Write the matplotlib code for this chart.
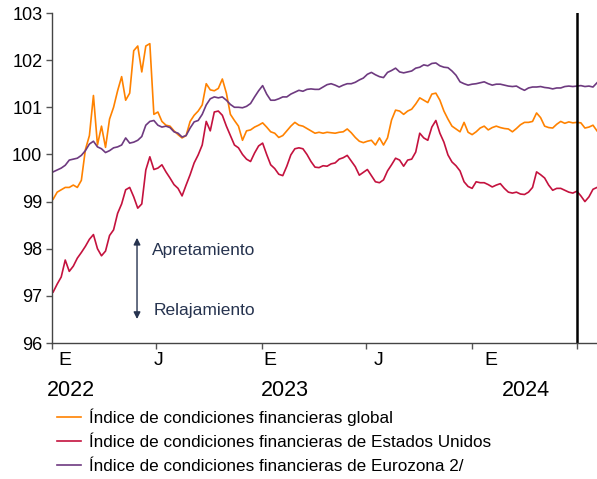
import matplotlib
matplotlib.use("Agg")
import matplotlib.pyplot as plt
import pandas as pd
from matplotlib import font_manager

# ---------------- data (weekly readings) ----------------
start_date = "2022-01-03"
n_weeks = 136

global_idx = [
    99.05, 99.20, 99.25, 99.30, 99.30, 99.35, 99.30, 99.45, 100.10, 100.40,
    101.25, 100.20, 100.60, 100.15, 100.75, 101.00, 101.35, 101.65, 101.15, 101.30,
    102.20, 102.30, 101.75, 102.30, 102.35, 100.85, 100.90, 100.70, 100.62, 100.60,
    100.50, 100.42, 100.35, 100.40, 100.70, 100.83, 100.92, 101.05, 101.50, 101.37,
    101.35, 101.40, 101.60, 101.30, 100.85, 100.72, 100.60, 100.30, 100.50, 100.52,
    100.58, 100.62, 100.67, 100.58, 100.48, 100.45, 100.36, 100.40, 100.50, 100.60,
    100.68, 100.62, 100.60, 100.55, 100.50, 100.45, 100.47, 100.45, 100.47, 100.46,
    100.45, 100.47, 100.48, 100.54, 100.46, 100.36, 100.28, 100.25, 100.28, 100.30,
    100.20, 100.35, 100.20, 100.35, 100.73, 100.94, 100.92, 100.85, 100.92, 100.96,
    101.07, 101.20, 101.15, 101.10, 101.28, 101.30, 101.15, 100.92, 100.75, 100.60,
    100.54, 100.48, 100.68, 100.47, 100.42, 100.48, 100.56, 100.60, 100.52, 100.57,
    100.60, 100.57, 100.55, 100.54, 100.48, 100.55, 100.63, 100.68, 100.68, 100.70,
    100.88, 100.78, 100.60, 100.57, 100.56, 100.64, 100.70, 100.66, 100.69, 100.67,
    100.68, 100.67, 100.56, 100.58, 100.62, 100.50,
]

us_idx = [
    97.08, 97.25, 97.40, 97.76, 97.52, 97.63, 97.80, 97.92, 98.05, 98.20,
    98.30, 98.00, 97.85, 97.95, 98.28, 98.40, 98.75, 98.95, 99.25, 99.30,
    99.10, 98.86, 98.95, 99.67, 99.95, 99.68, 99.71, 99.78, 99.63, 99.50,
    99.36, 99.28, 99.12, 99.35, 99.57, 99.82, 99.99, 100.20, 100.70, 100.50,
    100.90, 100.92, 100.83, 100.60, 100.40, 100.20, 100.14, 100.00, 99.90, 99.85,
    100.03, 100.18, 100.24, 100.00, 99.78, 99.70, 99.58, 99.55, 99.75, 99.99,
    100.12, 100.14, 100.12, 100.00, 99.85, 99.73, 99.72, 99.76, 99.75, 99.80,
    99.82, 99.90, 99.93, 99.98, 99.86, 99.74, 99.56, 99.62, 99.68, 99.55,
    99.42, 99.40, 99.46, 99.65, 99.78, 99.92, 99.88, 99.75, 99.88, 99.90,
    100.05, 100.45, 100.35, 100.30, 100.58, 100.72, 100.45, 100.26, 99.99, 99.84,
    99.76, 99.65, 99.42, 99.32, 99.28, 99.42, 99.40, 99.40, 99.36, 99.31,
    99.35, 99.38, 99.28, 99.20, 99.18, 99.20, 99.16, 99.15, 99.20, 99.30,
    99.63, 99.57, 99.50, 99.35, 99.24, 99.28, 99.28, 99.24, 99.20, 99.18,
    99.22, 99.12, 99.00, 99.10, 99.26, 99.30,
]

ez_idx = [
    99.63, 99.67, 99.71, 99.77, 99.88, 99.90, 99.92, 99.98, 100.08, 100.22,
    100.28, 100.16, 100.12, 100.04, 100.08, 100.14, 100.16, 100.20, 100.35, 100.24,
    100.26, 100.30, 100.38, 100.62, 100.70, 100.72, 100.62, 100.58, 100.60, 100.57,
    100.48, 100.45, 100.37, 100.40, 100.56, 100.69, 100.72, 100.85, 101.05, 101.18,
    101.22, 101.20, 101.22, 101.15, 101.06, 101.00, 101.00, 100.99, 101.02, 101.08,
    101.22, 101.35, 101.46, 101.28, 101.15, 101.15, 101.18, 101.22, 101.22, 101.28,
    101.32, 101.36, 101.34, 101.38, 101.39, 101.38, 101.38, 101.43, 101.48, 101.50,
    101.47, 101.43, 101.47, 101.50, 101.50, 101.53, 101.58, 101.62, 101.70, 101.74,
    101.69, 101.65, 101.63, 101.74, 101.78, 101.83, 101.75, 101.73, 101.75, 101.77,
    101.83, 101.85, 101.90, 101.88, 101.93, 101.94, 101.88, 101.85, 101.84, 101.77,
    101.68, 101.54, 101.50, 101.47, 101.49, 101.50, 101.52, 101.54, 101.50, 101.47,
    101.49, 101.49, 101.47, 101.45, 101.44, 101.45, 101.40, 101.36, 101.41, 101.43,
    101.43, 101.44, 101.42, 101.41, 101.39, 101.41, 101.41, 101.44, 101.45, 101.44,
    101.45, 101.46, 101.44, 101.45, 101.43, 101.52,
]

series_labels = [
    "Índice de condiciones financieras global",
    "Índice de condiciones financieras de Estados Unidos",
    "Índice de condiciones financieras de Eurozona 2/",
]
series_colors = ["#FF8200", "#C4123E", "#6E3A80"]

month_labels = ["E", "J", "E", "J", "E"]
year_labels = ["2022", "2023", "2024"]
y_ticks = [96, 97, 98, 99, 100, 101, 102, 103]
x_tick_dates = ["2022-01-01", "2022-07-01", "2023-01-01", "2023-07-01", "2024-01-01", "2024-07-01"]
vline_date = "2024-07-01"

# ---------------- fonts ----------------
avail = {f.name for f in font_manager.fontManager.ttflist}
base_font = "Liberation Sans" if "Liberation Sans" in avail else "DejaVu Sans"
narrow_font = "Liberation Sans Narrow" if "Liberation Sans Narrow" in avail else None
plt.rcParams["font.family"] = [base_font, "DejaVu Sans"]

dates = pd.date_range(start_date, periods=n_weeks, freq="7D")

fig = plt.figure(figsize=(5.97, 4.79), dpi=100)
ax = fig.add_axes([52 / 597, 1 - 343 / 479, 545 / 597, 330 / 479])

for vals, lab, col in zip([global_idx, us_idx, ez_idx], series_labels, series_colors):
    ax.plot(dates, vals, color=col, lw=1.2, label=lab)

ax.axvline(pd.Timestamp(vline_date), color="black", lw=1.8)

ax.set_ylim(96, 103)
ax.set_xlim(pd.Timestamp("2022-01-01"), pd.Timestamp("2024-08-05"))
ax.set_yticks(y_ticks)
ax.set_yticklabels([str(v) for v in y_ticks], fontsize=13)
ax.set_xticks([pd.Timestamp(d) for d in x_tick_dates])
ax.set_xticklabels([])
ax.tick_params(axis="both", direction="out", length=4, width=1, color="#555555", pad=3)
for s in ["top", "right"]:
    ax.spines[s].set_visible(False)
for s in ["left", "bottom"]:
    ax.spines[s].set_color("#444444")
    ax.spines[s].set_linewidth(1)

# month / year labels
month_pos = [0.0239, 0.1963, 0.3991, 0.599, 0.8055]
for lab, xp in zip(month_labels, month_pos):
    ax.text(xp, -0.052, lab, transform=ax.transAxes, ha="center", va="center", fontsize=14)
year_pos = [0.0349, 0.4275, 0.8690]
for lab, xp in zip(year_labels, year_pos):
    ax.text(xp, -0.145, lab, transform=ax.transAxes, ha="center", va="center", fontsize=15.5)

# arrow annotation
navy = "#26334F"
ax.annotate("", xy=(0.156, 96.45), xytext=(0.156, 98.29),
            xycoords=("axes fraction", "data"), textcoords=("axes fraction", "data"),
            arrowprops=dict(arrowstyle="<|-|>", color=navy, lw=1.0, mutation_scale=10))
ax.text(0.184, 97.97, "Apretamiento", transform=ax.get_yaxis_transform(), color=navy,
        fontsize=12.5, va="center", ha="left")
ax.text(0.186, 96.70, "Relajamiento", transform=ax.get_yaxis_transform(), color=navy,
        fontsize=12.5, va="center", ha="left")

# legend
if narrow_font:
    leg_font = {"family": [narrow_font, "DejaVu Sans"], "size": 14.5}
else:
    leg_font = {"family": [base_font, "DejaVu Sans"], "size": 12.3}
leg = fig.legend(loc="upper left", bbox_to_anchor=(57 / 597, 1 - 408 / 479), frameon=False,
                 prop=leg_font, handlelength=1.4, handletextpad=0.45, labelspacing=0.55,
                 borderaxespad=0, borderpad=0)

fig.savefig("out.png", dpi=100)
